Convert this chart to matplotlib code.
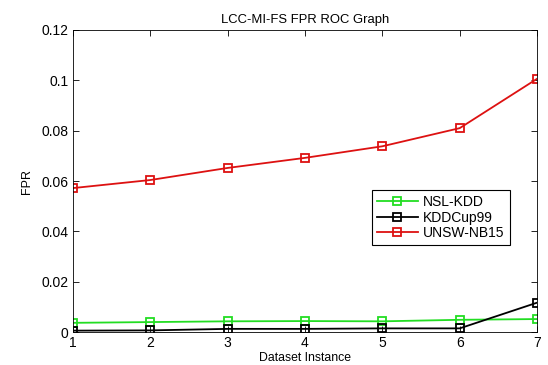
import matplotlib
matplotlib.use("Agg")
import matplotlib.pyplot as plt

plt.rcParams['font.family'] = ['Liberation Sans', 'DejaVu Sans']

instances = [1, 2, 3, 4, 5, 6, 7]
nsl_kdd = [0.0037, 0.0040, 0.0043, 0.0044, 0.0043, 0.0049, 0.0052]
kddcup99 = [0.0006, 0.0007, 0.0013, 0.0013, 0.0015, 0.0015, 0.0117]
unsw_nb15 = [0.0572, 0.0604, 0.0652, 0.0692, 0.0738, 0.0810, 0.1006]
y_ticks = [0, 0.02, 0.04, 0.06, 0.08, 0.1, 0.12]
y_tick_labels = ['0', '0.02', '0.04', '0.06', '0.08', '0.1', '0.12']

fig = plt.figure(figsize=(5.48, 3.65), dpi=100)
ax = fig.add_axes([0.133, 0.090, 0.847, 0.828])

style = dict(marker='s', markersize=6, markerfacecolor='none', markeredgewidth=1.3, linewidth=1.3)
ax.plot(instances, nsl_kdd, color='#22dd22', label='NSL-KDD', **style)
ax.plot(instances, kddcup99, color='black', label='KDDCup99', **style)
ax.plot(instances, unsw_nb15, color='#dd1111', label='UNSW-NB15', **style)

ax.set_xlim(1, 7)
ax.set_ylim(0, 0.12)
ax.set_xticks(instances)
ax.set_yticks(y_ticks)
ax.set_yticklabels(y_tick_labels)
ax.tick_params(direction='in', top=True, right=True, labelsize=10, length=4, width=0.6, pad=3)
for s in ax.spines.values():
    s.set_linewidth(0.6)

ax.set_title('LCC-MI-FS FPR ROC Graph', fontsize=9.4, pad=5)
ax.set_xlabel('Dataset Instance', fontsize=8.8, labelpad=1)
ax.set_ylabel('FPR', fontsize=9, labelpad=6)

leg = ax.legend(loc='upper left', bbox_to_anchor=(0.644, 0.470), fontsize=10,
                fancybox=False, framealpha=1, edgecolor='black',
                borderpad=0.35, labelspacing=0.12, handlelength=3.0, handletextpad=0.35,
                borderaxespad=0)
leg.get_frame().set_linewidth(0.8)

fig.savefig('out.png', dpi=100)
